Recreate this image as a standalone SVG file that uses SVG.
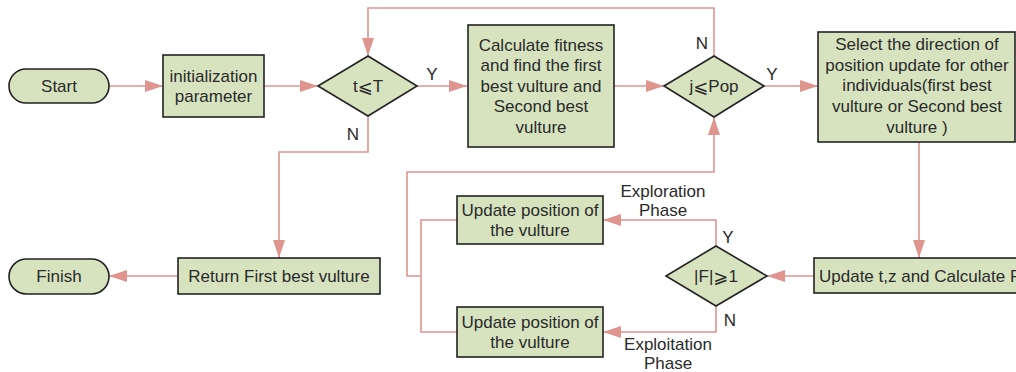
<svg xmlns="http://www.w3.org/2000/svg" width="1016" height="372" viewBox="0 0 1016 372">
<style>
.n{fill:#d7e3bf;stroke:#222;stroke-width:1.6}
.t{font-family:"Liberation Sans","DejaVu Sans",Arial,sans-serif;font-size:17px;fill:#2a2a2a;text-anchor:middle;dominant-baseline:central}
.s{font-family:"DejaVu Sans",sans-serif;font-size:18px}
.c{fill:none;stroke:#df958e;stroke-width:1.6}
</style>
<defs>
<marker id="ah" markerWidth="18" markerHeight="12" refX="18" refY="6" orient="auto" markerUnits="userSpaceOnUse">
<path d="M0,0 L18,6 L0,12 Z" fill="#df958e"/>
</marker>
</defs>
<rect width="1016" height="372" fill="#fff"/>
<g id="connectors">
<path class="c" d="M109,86 H163" marker-end="url(#ah)"/>
<path class="c" d="M264,86 H318" marker-end="url(#ah)"/>
<path class="c" d="M417,86 H467" marker-end="url(#ah)"/>
<path class="c" d="M614,86 H664" marker-end="url(#ah)"/>
<path class="c" d="M764,86 H818" marker-end="url(#ah)"/>
<path class="c" d="M714,56 V8 H368 V56" marker-end="url(#ah)"/>
<path class="c" d="M368,116 V152 H279 V258" marker-end="url(#ah)"/>
<path class="c" d="M178,276 H109" marker-end="url(#ah)"/>
<path class="c" d="M919,142 V258" marker-end="url(#ah)"/>
<path class="c" d="M814,276 H767" marker-end="url(#ah)"/>
<path class="c" d="M716,246 V220 H603" marker-end="url(#ah)"/>
<path class="c" d="M716,306 V332 H603" marker-end="url(#ah)"/>
<path class="c" d="M457,220 H421 V332 H457"/>
<path class="c" d="M421,276 H407 V172 H714 V117" marker-end="url(#ah)"/>
</g>
<g id="start"><rect class="n" x="9" y="69" width="100" height="34" rx="17"/><text class="t" x="59" y="86">Start</text></g>
<g id="init"><rect class="n" x="163" y="55" width="101" height="62"/><text class="t" x="213.5" y="76">initialization</text><text class="t" x="213.5" y="96">parameter</text></g>
<g id="cond-t"><polygon class="n" points="318,86 368,56 417,86 368,116"/><text class="t" x="368" y="86">t<tspan class="s">⩽</tspan>T</text></g>
<g id="calc"><rect class="n" x="468" y="25" width="146" height="122"/>
<text class="t" x="541" y="45">Calculate fitness</text><text class="t" x="541" y="65.5">and find the first</text><text class="t" x="541" y="86">best vulture and</text><text class="t" x="541" y="106.5">Second best</text><text class="t" x="541" y="127">vulture</text></g>
<g id="cond-j"><polygon class="n" points="664,86 714,56 764,86 714,117"/><text class="t" x="714" y="86">j<tspan class="s">⩽</tspan>Pop</text></g>
<g id="select"><rect class="n" x="818" y="32" width="197" height="110"/>
<text class="t" x="917" y="44">Select the direction of</text><text class="t" x="917" y="65">position update for other</text><text class="t" x="917" y="85.5">individuals(first best</text><text class="t" x="917" y="106">vulture or Second best</text><text class="t" x="917" y="127">vulture )</text></g>
<g id="update-tz"><rect class="n" x="814" y="258" width="220" height="35"/><text class="t" x="819" y="276" style="text-anchor:start">Update t,z and Calculate F</text></g>
<g id="cond-f"><polygon class="n" points="666,276 716,246 767,276 716,306"/><text class="t" x="716" y="276">|F|<tspan class="s">⩾</tspan>1</text></g>
<g id="update1"><rect class="n" x="457" y="196" width="146" height="48"/><text class="t" x="530" y="210">Update position of</text><text class="t" x="530" y="230">the vulture</text></g>
<g id="update2"><rect class="n" x="457" y="307" width="146" height="50"/><text class="t" x="530" y="322">Update position of</text><text class="t" x="530" y="342">the vulture</text></g>
<g id="return"><rect class="n" x="178" y="258" width="202" height="36"/><text class="t" x="279" y="276">Return First best vulture</text></g>
<g id="finish"><rect class="n" x="9" y="259" width="100" height="35" rx="17.5"/><text class="t" x="59" y="276.5">Finish</text></g>
<g id="labels">
<text class="t" x="432" y="74">Y</text>
<text class="t" x="353" y="134">N</text>
<text class="t" x="702" y="43">N</text>
<text class="t" x="772" y="74">Y</text>
<text class="t" x="728" y="237">Y</text>
<text class="t" x="730" y="320">N</text>
<text class="t" x="663" y="191">Exploration</text>
<text class="t" x="663" y="210">Phase</text>
<text class="t" x="668" y="344">Exploitation</text>
<text class="t" x="668" y="363">Phase</text>
</g>
</svg>
